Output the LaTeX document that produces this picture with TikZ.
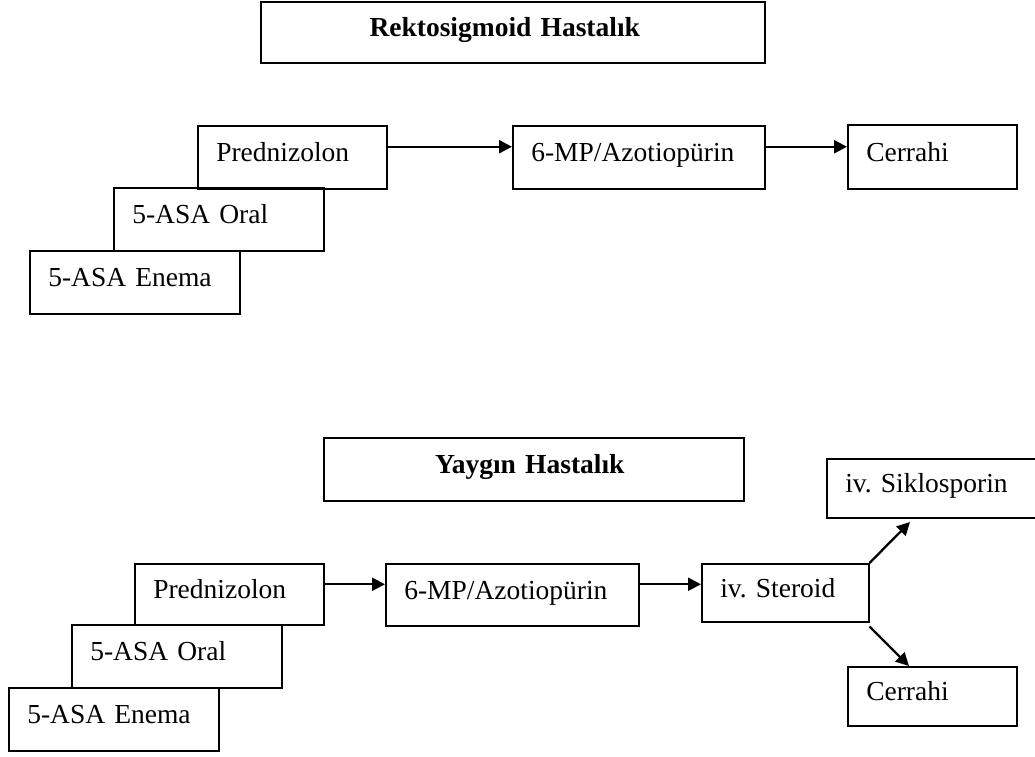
\documentclass[tikz,border=0pt]{standalone}
\usepackage{fontspec}
\setmainfont{Liberation Serif}
\usetikzlibrary{arrows.meta}
\frenchspacing
\tikzset{
  bx/.style={draw, line width=1.5pt, anchor=north west, inner xsep=18.5pt, inner ysep=0pt,
    align=left, text height=17pt, text depth=8pt, font=\fontsize{27.5}{33}\selectfont},
  ttl/.style={bx, align=center, font=\fontsize{27.5}{33}\selectfont\bfseries},
  arr/.style={line width=2.3pt, -{Triangle[length=13pt,width=13pt]}}
}
\begin{document}
\begin{tikzpicture}[x=1pt,y=-1pt]
\useasboundingbox (0,0) rectangle (1035,756);
\clip (0,0) rectangle (1035,756);
% top diagram
\node[ttl, minimum width=504pt, minimum height=61pt, text width=467pt] (T1) at (260,1) {\hspace*{-16pt}Rektosigmoid Hastalık};
\node[bx, minimum width=210pt, minimum height=63pt, text width=173pt] (E1) at (29,250) {5-ASA Enema};
\node[bx, minimum width=210pt, minimum height=63pt, text width=173pt] (O1) at (113,187) {5-ASA Oral};
\node[bx, minimum width=189pt, minimum height=63pt, text width=152pt] (P1) at (197,125) {Prednizolon};
\node[bx, minimum width=252pt, minimum height=63pt, text width=215pt] (M1) at (512,125) {6-MP/Azotiopürin};
\node[bx, minimum width=169pt, minimum height=64pt, text width=132pt] (C1) at (847,124) {Cerrahi};
\draw[arr] ([yshift=10.5pt]P1.east) -- ([yshift=10.5pt]P1.east -| M1.west);
\draw[arr] ([yshift=10.5pt]M1.east) -- ([yshift=10.5pt]M1.east -| C1.west);
% bottom diagram
\node[ttl, minimum width=420pt, minimum height=63pt, text width=383pt] (T2) at (323,437) {\hspace*{-8pt}Yaygın Hastalık};
\node[bx, minimum width=219pt, minimum height=59pt, text width=182pt] (S2) at (826,458) {iv. Siklosporin};
\node[bx, minimum width=210pt, minimum height=63pt, text width=173pt] (E2) at (8,687) {5-ASA Enema};
\node[bx, minimum width=210pt, minimum height=63pt, text width=173pt] (O2) at (71,624) {5-ASA Oral};
\node[bx, minimum width=189pt, minimum height=61pt, text width=152pt] (P2) at (134,563) {Prednizolon};
\node[bx, minimum width=253pt, minimum height=62pt, text width=216pt] (M2) at (385,563) {6-MP/Azotiopürin};
\node[bx, minimum width=167pt, minimum height=58pt, text width=130pt] (St2) at (701,563) {iv. Steroid};
\node[bx, minimum width=169pt, minimum height=59pt, text width=132pt] (C2) at (847,666) {Cerrahi};
\coordinate (sa) at (910,522);
\coordinate (cb) at (909,666);
\draw[arr] ([yshift=10pt]P2.east) -- ([yshift=10pt]P2.east -| M2.west);
\draw[arr] ([yshift=10pt]P2.east -| M2.east) -- ([yshift=10pt]P2.east -| St2.west);
\draw[arr] (St2.north east) -- (sa);
\draw[arr] ([yshift=-4pt]St2.south east) -- (cb);
\end{tikzpicture}
\end{document}
